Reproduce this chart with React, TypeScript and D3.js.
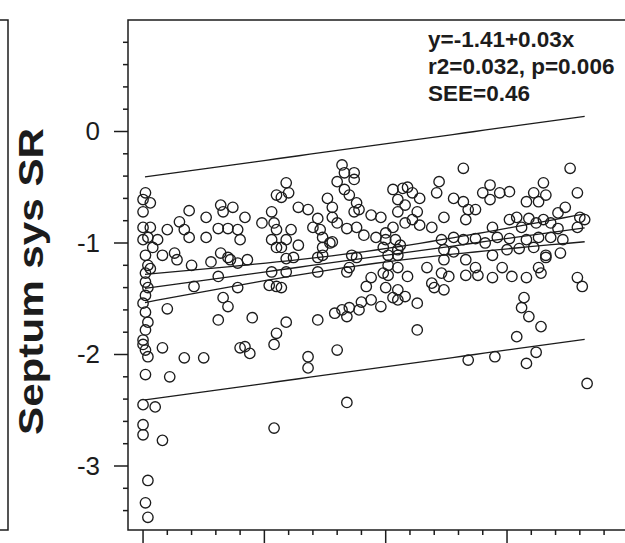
import React from 'react';
import * as d3 from 'd3';

// ---- data (x = age, y = septum systolic strain rate) ----
const observations: [number, number][] = [
  // left column, youngest
  [0.1,-0.55],[0.0,-0.61],[0.3,-0.64],[0.0,-0.72],[0.0,-0.86],[0.3,-0.86],[0.2,-0.95],[0.0,-0.97],
  [0.4,-1.04],[0.1,-1.11],[0.2,-1.20],[0.1,-1.27],[0.1,-1.35],[0.2,-1.40],[0.1,-1.47],[0.0,-1.54],
  [0.1,-1.62],[0.1,-1.78],[0.0,-1.87],[0.1,-1.96],[0.2,-2.02],[0.1,-2.18],[0.0,-2.45],[0.0,-2.63],
  [0.0,-2.72],[0.2,-3.13],[0.1,-3.33],[0.2,-3.46],[0.2,-1.71],[0.0,-1.91],[0.3,-1.23],
  [0.5,-2.47],[0.8,-2.77],[0.8,-1.94],[1.1,-2.20],[1.7,-2.03],[2.5,-2.03],[1.0,-1.59],[2.1,-1.39],
  [3.1,-1.69],[3.5,-1.57],[3.3,-1.49],[3.9,-1.40],[4.5,-1.67],[4.2,-1.93],[4.4,-1.99],[4.0,-1.94],
  [5.5,-1.81],[5.4,-1.91],[5.9,-1.71],[5.2,-1.38],[5.5,-1.39],[5.7,-1.40],[5.4,-2.66],[6.8,-2.02],
  [6.8,-2.12],[7.2,-1.69],[5.3,-1.26],[3.1,-1.30],
  // lower middle
  [7.9,-1.63],[8.4,-1.66],[8.5,-1.58],[8.9,-1.60],[9.0,-1.53],[9.2,-1.39],[9.4,-1.31],[9.8,-1.57],
  [10.0,-1.40],[10.5,-1.51],[10.9,-1.30],[11.3,-1.54],[11.3,-1.78],[12.0,-1.40],[12.4,-1.42],[8.0,-1.96],
  [8.4,-2.43],[13.4,-2.05],[14.5,-2.02],[15.4,-1.84],[15.7,-1.49],[15.6,-1.58],[15.9,-1.66],[16.4,-1.75],
  [16.2,-1.98],[15.8,-2.08],[18.3,-2.26],[17.9,-1.31],[18.1,-1.39],
  [7.2,-1.26],[8.4,-1.26],[10.1,-1.29],[13.3,-1.29],[13.8,-1.29],[14.4,-1.31],[15.2,-1.30],[15.8,-1.31],
  [16.4,-1.27],[9.9,-1.27],[10.5,-1.42],[10.3,-1.49],[11.7,-1.22],[12.3,-1.27],[14.8,-1.22],[16.6,-1.13],
  [17.2,-1.09],[8.8,-1.13],[10.8,-1.48],[9.4,-1.51],[10.5,-1.06],
  // band around -1
  [0.8,-1.11],[1.3,-1.09],[1.4,-1.15],[2.0,-1.20],[2.8,-1.17],[3.2,-1.09],[3.5,-1.13],[3.9,-1.18],
  [4.3,-1.15],[8.2,-1.60],[8.5,-1.22],[8.6,-1.11],[7.4,-1.11],[6.2,-1.13],[6.4,-1.02],[7.4,-1.04],
  [5.5,-1.04],[7.7,-1.00],
  // upper left
  [1.9,-0.71],[2.6,-0.77],[2.6,-0.95],[3.2,-0.66],[3.3,-0.72],[3.7,-0.68],[4.2,-0.77],[3.1,-0.87],
  [3.5,-0.87],[3.9,-0.88],[4.0,-0.97],[4.9,-0.82],[5.3,-0.72],[5.5,-0.57],[5.7,-0.59],[5.9,-0.46],
  [5.4,-0.82],[5.5,-0.88],[5.3,-0.97],[5.7,-1.04],[5.9,-0.97],[1.5,-0.81],[1.7,-0.88],[1.9,-0.95],
  [1.0,-0.88],[0.6,-0.97],[3.6,-1.15],[5.9,-1.26],[5.9,-1.14],
  // upper middle
  [6.0,-0.55],[8.2,-0.30],[8.7,-0.37],[8.3,-0.37],[8.0,-0.45],[8.7,-0.43],[8.3,-0.52],[7.6,-0.60],
  [7.8,-0.68],[8.5,-0.57],[8.8,-0.64],[8.9,-0.70],[9.4,-0.75],[9.8,-0.77],[8.7,-0.72],[6.4,-0.68],
  [6.8,-0.70],[7.2,-0.78],[7.0,-0.86],[7.8,-0.77],[8.0,-0.82],[8.4,-0.87],[8.8,-0.86],[6.1,-0.88],
  [7.3,-0.88],[7.4,-0.95],[7.8,-0.99],[7.2,-1.13],[9.1,-0.93],[9.6,-0.95],[10.0,-0.91],[10.3,-0.86],
  [10.0,-0.97],[10.4,-0.97],[10.6,-1.02],[9.9,-1.04],[10.1,-1.11],[10.5,-1.11],[10.1,-1.20],[10.5,-1.22],
  [10.3,-0.52],[10.7,-0.51],[10.9,-0.50],[11.1,-0.55],[11.4,-0.60],[10.5,-0.61],[10.8,-0.66],[10.5,-0.72],
  [11.3,-0.72],[11.1,-0.79],[11.4,-0.84],[10.8,-0.82],[11.9,-0.86],[12.2,-0.45],[12.1,-0.55],[12.4,-0.77],
  [12.3,-0.97],[11.9,-1.36],[12.4,-1.06],
  // upper right
  [13.2,-0.33],[17.6,-0.33],[14.0,-0.55],[14.3,-0.48],[14.7,-0.55],[14.3,-0.61],[15.1,-0.54],[16.5,-0.46],
  [16.1,-0.55],[16.3,-0.63],[15.8,-0.63],[16.6,-0.57],[17.9,-0.55],[12.8,-0.60],[13.2,-0.63],[13.4,-0.70],
  [13.7,-0.70],[13.3,-0.79],[17.4,-0.68],[17.1,-0.73],[16.5,-0.79],[18.0,-0.77],[18.2,-0.79],[17.9,-0.86],
  [14.4,-0.86],[15.1,-0.79],[15.4,-0.77],[15.9,-0.78],[16.2,-0.82],[15.6,-0.86],[16.8,-0.82],[17.1,-0.87],
  [12.8,-0.95],[13.2,-0.97],[13.7,-0.96],[14.1,-1.00],[14.6,-0.95],[15.1,-0.96],[15.8,-0.97],[16.3,-0.95],
  [16.8,-0.95],[17.3,-0.97],[14.4,-1.11],[15.0,-1.06],[15.5,-1.05],[16.1,-1.04],[16.6,-1.11],[12.8,-1.08],
  [13.3,-1.15],[13.7,-1.22],[16.3,-1.22],[12.4,-1.15],[12.6,-1.30],
];

const yMajorTicks = [0, -1, -2, -3];
const yMinorTicks = [0.8, 0.6, 0.4, 0.2, -0.2, -0.4, -0.6, -0.8, -1.2, -1.4, -1.6, -1.8,
  -2.2, -2.4, -2.6, -2.8, -3.2, -3.4];
const xMajorTicks = [0, 5, 10, 15, 20];
const xMinorTicks = [1, 2, 3, 4, 6, 7, 8, 9, 11, 12, 13, 14, 16, 17, 18, 19];

const regIntercept = -1.41;
const regSlope = 0.03;
const fitFrom = 0.08;
const fitTo = 18.2;
const SEE = 0.46;
const nObs = 233;
const xMean = 9.2;
const sxx = 5500;
const tCrit = 1.97;
const predictionHalfWidth = 1.0;

const statsLines = ['y=-1.41+0.03x', 'r2=0.032, p=0.006', 'SEE=0.46'];
const yTitle = 'Septum sys SR';

const W = 625;
const H = 543;
const FONT = "'Liberation Sans', Arial, Helvetica, sans-serif";

export default function App() {
  const x = d3.scaleLinear().domain([-0.62, 20.48]).range([128, 640]);
  const y = d3.scaleLinear().domain([-3.574, 1.0]).range([530, 20]);

  const fitXs = d3.range(0, 41).map((i) => fitFrom + ((fitTo - fitFrom) * i) / 40);
  const reg = (v: number) => regIntercept + regSlope * v;
  const ci = (v: number) =>
    tCrit * SEE * Math.sqrt(1 / nObs + ((v - xMean) * (v - xMean)) / sxx);

  const mk = (f: (v: number) => number) =>
    d3
      .line<number>()
      .x((v) => x(v))
      .y((v) => y(f(v)))(fitXs) as string;

  const fitPaths = [
    mk(reg),
    mk((v) => reg(v) + ci(v)),
    mk((v) => reg(v) - ci(v)),
    mk((v) => reg(v) + predictionHalfWidth),
    mk((v) => reg(v) - predictionHalfWidth),
  ];

  const left = x.range()[0];
  const right = x.range()[1];
  const top = y.range()[1];
  const bottom = y.range()[0];
  const ink = '#1c1c1c';

  return (
    <svg
      width={W}
      height={H}
      style={{ position: 'absolute', left: 0, top: 0, background: '#fff' }}
    >
      <rect x={0} y={0} width={W} height={H} fill="#fff" />
      {/* edge of neighbouring panel */}
      <path d={`M0,${top} H8 V${bottom} H0`} fill="none" stroke={ink} strokeWidth={1.5} />

      {/* frame */}
      <rect
        x={left}
        y={top}
        width={right - left}
        height={bottom - top}
        fill="none"
        stroke={ink}
        strokeWidth={1.5}
      />

      {/* y ticks */}
      {yMajorTicks.map((t) => (
        <g key={'ym' + t}>
          <line x1={left - 14} x2={left} y1={y(t)} y2={y(t)} stroke={ink} strokeWidth={1.5} />
          <text
            x={100}
            y={y(t)}
            textAnchor="end"
            dominantBaseline="central"
            fontFamily={FONT}
            fontSize={26}
            fill={ink}
          >
            {String(t)}
          </text>
        </g>
      ))}
      {yMinorTicks.map((t) => (
        <line key={'yn' + t} x1={left - 5} x2={left} y1={y(t)} y2={y(t)} stroke={ink} strokeWidth={1.5} />
      ))}

      {/* x ticks */}
      {xMajorTicks.map((t) => (
        <line key={'xm' + t} x1={x(t)} x2={x(t)} y1={bottom} y2={bottom + 14} stroke={ink} strokeWidth={1.5} />
      ))}
      {xMinorTicks.map((t) => (
        <line key={'xn' + t} x1={x(t)} x2={x(t)} y1={bottom} y2={bottom + 5} stroke={ink} strokeWidth={1.5} />
      ))}

      {/* y title */}
      <text
        transform={`translate(43,${(128 + 435) / 2}) rotate(-90)`}
        textAnchor="middle"
        fontFamily={FONT}
        fontWeight="bold"
        fontSize={35}
        textLength={307}
        lengthAdjust="spacingAndGlyphs"
        fill={ink}
      >
        {yTitle}
      </text>

      {/* fit lines */}
      {fitPaths.map((d, i) => (
        <path key={'f' + i} d={d} fill="none" stroke={ink} strokeWidth={1.3} />
      ))}

      {/* points */}
      {observations.map(([a, b], i) => (
        <circle
          key={'p' + i}
          cx={x(a)}
          cy={y(b)}
          r={5.2}
          fill="none"
          stroke={ink}
          strokeWidth={1.35}
        />
      ))}

      {/* stats annotation */}
      {statsLines.map((s, i) => (
        <text
          key={'s' + i}
          x={428}
          y={47 + i * 27}
          fontFamily={FONT}
          fontWeight="bold"
          fontSize={22.5}
          fill={ink}
        >
          {s}
        </text>
      ))}
    </svg>
  );
}
